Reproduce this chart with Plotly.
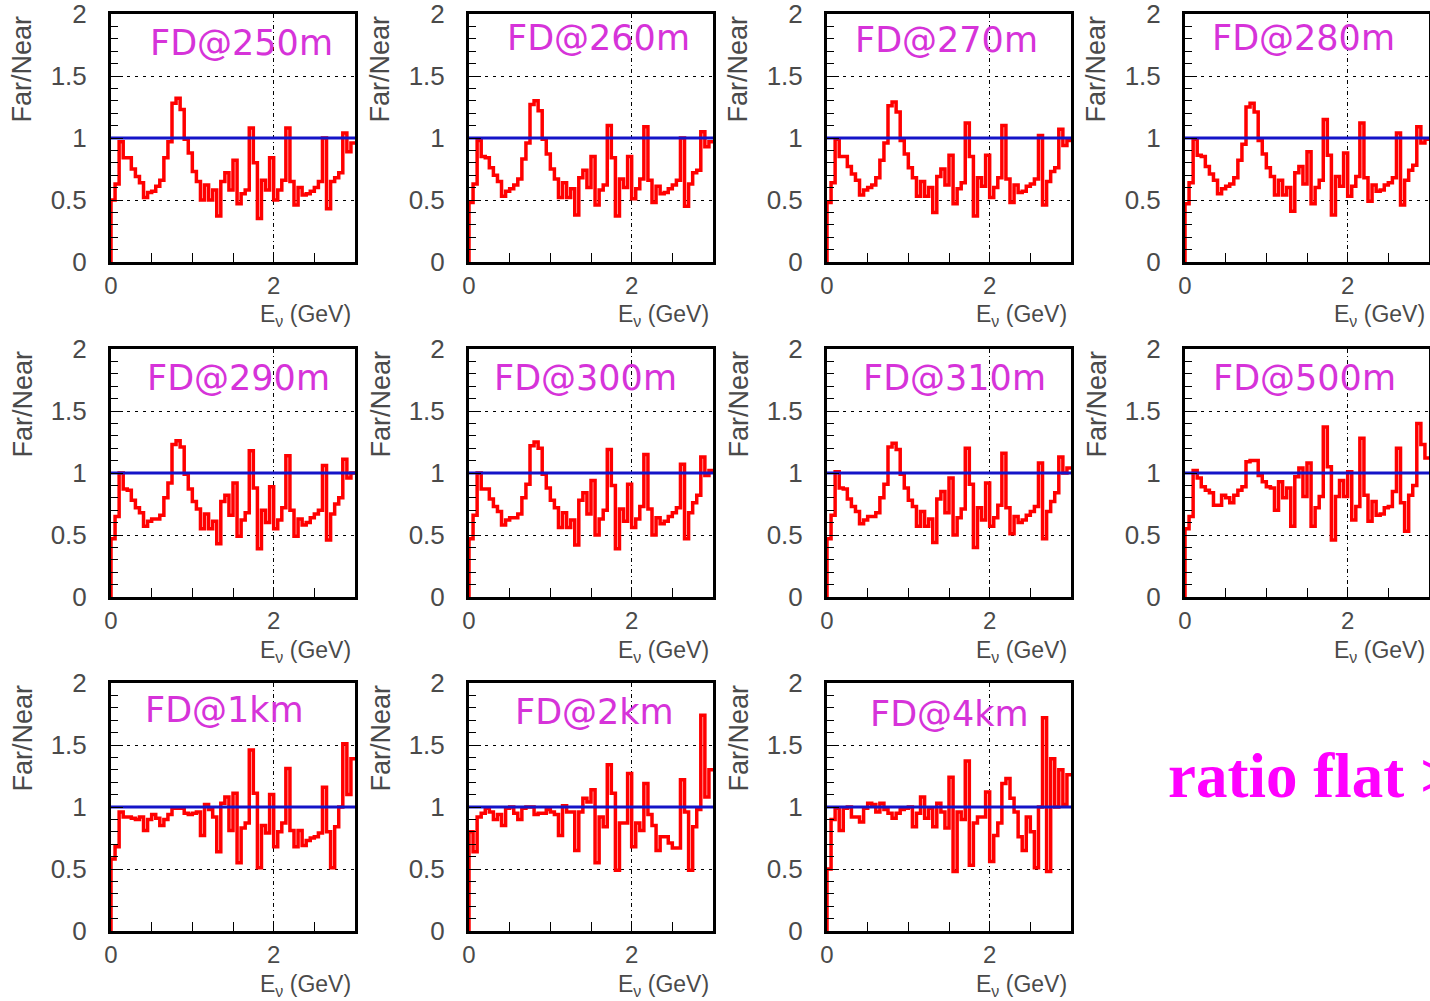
import numpy as np
import plotly.graph_objects as go

# ---------------- data ----------------
E_MIN, E_MAX = 0.0, 3.0
N_BINS = 60
UNITY = 1.0

panel_labels = ["FD@250m", "FD@260m", "FD@270m", "FD@280m",
                "FD@290m", "FD@300m", "FD@310m", "FD@500m",
                "FD@1km", "FD@2km", "FD@4km"]

r250 = [0.50, 0.63, 0.97, 0.84, 0.84, 0.75, 0.69, 0.64, 0.52, 0.56,
        0.57, 0.61, 0.66, 0.84, 0.97, 1.28, 1.32, 1.23, 0.99, 0.88,
        0.73, 0.65, 0.50, 0.62, 0.50, 0.58, 0.37, 0.65, 0.72, 0.58,
        0.82, 0.47, 0.55, 0.58, 1.08, 0.80, 0.35, 0.66, 0.58, 0.84,
        0.50, 0.58, 0.66, 1.08, 0.65, 0.46, 0.60, 0.54, 0.55, 0.57,
        0.60, 0.65, 1.00, 0.43, 0.65, 0.68, 0.72, 1.04, 0.89, 0.96]

r260 = [0.48, 0.63, 0.98, 0.85, 0.84, 0.76, 0.70, 0.65, 0.53, 0.57,
        0.59, 0.62, 0.67, 0.83, 0.96, 1.27, 1.30, 1.22, 0.99, 0.87,
        0.75, 0.67, 0.52, 0.64, 0.52, 0.59, 0.38, 0.68, 0.74, 0.60,
        0.85, 0.46, 0.58, 0.62, 1.10, 0.84, 0.37, 0.67, 0.60, 0.85,
        0.51, 0.59, 0.67, 1.09, 0.66, 0.48, 0.61, 0.55, 0.56, 0.59,
        0.62, 0.66, 1.00, 0.45, 0.63, 0.72, 0.74, 1.05, 0.93, 0.97]

r270 = [0.48, 0.64, 0.99, 0.85, 0.85, 0.77, 0.71, 0.66, 0.54, 0.58,
        0.60, 0.62, 0.68, 0.82, 0.96, 1.26, 1.29, 1.21, 0.98, 0.87,
        0.76, 0.68, 0.53, 0.65, 0.53, 0.60, 0.40, 0.69, 0.75, 0.62,
        0.86, 0.47, 0.59, 0.64, 1.12, 0.85, 0.37, 0.68, 0.61, 0.86,
        0.52, 0.60, 0.68, 1.10, 0.67, 0.48, 0.62, 0.56, 0.57, 0.61,
        0.63, 0.67, 1.02, 0.46, 0.65, 0.73, 0.76, 1.07, 0.94, 0.98]

r280 = [0.47, 0.64, 0.99, 0.86, 0.85, 0.77, 0.71, 0.66, 0.55, 0.59,
        0.61, 0.63, 0.68, 0.82, 0.95, 1.25, 1.28, 1.21, 0.98, 0.87,
        0.76, 0.69, 0.54, 0.66, 0.54, 0.60, 0.41, 0.72, 0.77, 0.63,
        0.89, 0.47, 0.60, 0.66, 1.15, 0.86, 0.38, 0.69, 0.61, 0.88,
        0.53, 0.61, 0.69, 1.12, 0.68, 0.49, 0.62, 0.57, 0.58, 0.62,
        0.64, 0.68, 1.04, 0.46, 0.66, 0.74, 0.78, 1.09, 0.96, 0.99]

r290 = [0.47, 0.65, 1.00, 0.87, 0.86, 0.78, 0.72, 0.68, 0.57, 0.61,
        0.63, 0.63, 0.66, 0.80, 0.92, 1.23, 1.26, 1.21, 0.99, 0.87,
        0.77, 0.71, 0.55, 0.67, 0.55, 0.61, 0.43, 0.77, 0.82, 0.66,
        0.92, 0.49, 0.62, 0.68, 1.18, 0.88, 0.39, 0.70, 0.60, 0.89,
        0.55, 0.62, 0.72, 1.14, 0.70, 0.49, 0.63, 0.58, 0.60, 0.64,
        0.67, 0.70, 1.06, 0.46, 0.67, 0.75, 0.80, 1.11, 0.96, 1.00]

r300 = [0.47, 0.66, 1.00, 0.87, 0.87, 0.79, 0.73, 0.69, 0.58, 0.62,
        0.64, 0.64, 0.67, 0.80, 0.91, 1.22, 1.25, 1.20, 0.99, 0.88,
        0.78, 0.72, 0.56, 0.68, 0.56, 0.62, 0.42, 0.78, 0.84, 0.67,
        0.94, 0.50, 0.63, 0.70, 1.19, 0.90, 0.39, 0.71, 0.61, 0.91,
        0.56, 0.63, 0.73, 1.15, 0.71, 0.50, 0.64, 0.59, 0.61, 0.65,
        0.68, 0.72, 1.07, 0.47, 0.68, 0.76, 0.82, 1.13, 0.98, 1.02]

r310 = [0.47, 0.66, 1.01, 0.88, 0.87, 0.79, 0.73, 0.69, 0.59, 0.62,
        0.65, 0.65, 0.68, 0.80, 0.91, 1.21, 1.24, 1.19, 0.99, 0.88,
        0.78, 0.73, 0.57, 0.69, 0.57, 0.63, 0.44, 0.79, 0.85, 0.68,
        0.96, 0.50, 0.64, 0.71, 1.20, 0.91, 0.40, 0.72, 0.62, 0.92,
        0.57, 0.64, 0.74, 1.16, 0.72, 0.51, 0.65, 0.60, 0.62, 0.66,
        0.69, 0.73, 1.08, 0.47, 0.69, 0.77, 0.84, 1.13, 1.00, 1.04]

r500 = [0.55, 0.65, 1.02, 0.96, 0.89, 0.86, 0.84, 0.74, 0.74, 0.82,
        0.80, 0.76, 0.82, 0.86, 0.89, 1.09, 1.10, 1.10, 0.98, 0.93,
        0.89, 0.88, 0.70, 0.93, 0.80, 0.88, 0.57, 0.97, 1.04, 0.81,
        1.08, 0.57, 0.72, 0.81, 1.37, 1.05, 0.46, 0.81, 0.94, 0.81,
        1.01, 0.62, 0.73, 1.28, 0.82, 0.61, 0.77, 0.66, 0.67, 0.72,
        0.73, 0.85, 1.20, 0.76, 0.53, 0.82, 0.90, 1.40, 1.23, 1.12]

r1km = [0.58, 0.68, 0.96, 0.92, 0.92, 0.91, 0.90, 0.92, 0.81, 0.90,
        0.94, 0.91, 0.85, 0.90, 0.94, 0.99, 0.99, 0.99, 0.95, 0.94,
        0.95, 0.96, 0.77, 1.02, 0.98, 0.92, 0.64, 1.03, 1.08, 0.81,
        1.11, 0.55, 0.83, 0.87, 1.46, 1.11, 0.51, 0.85, 0.79, 1.10,
        0.68, 0.80, 0.87, 1.31, 0.81, 0.68, 0.81, 0.69, 0.73, 0.75,
        0.76, 0.79, 1.16, 0.80, 0.51, 0.84, 1.00, 1.51, 1.10, 1.39]

r2km = [0.80, 0.64, 0.92, 0.95, 0.99, 0.96, 0.90, 0.94, 0.85, 0.99,
        1.00, 0.95, 0.90, 0.99, 1.00, 1.00, 0.94, 0.95, 0.95, 0.98,
        0.96, 0.94, 0.77, 1.01, 0.96, 0.96, 0.65, 0.96, 1.07, 1.04,
        1.14, 0.55, 0.92, 0.84, 1.34, 1.11, 0.49, 0.87, 0.87, 1.27,
        0.68, 0.87, 0.81, 1.19, 0.94, 0.85, 0.65, 0.76, 0.76, 0.71,
        0.67, 0.67, 1.22, 0.96, 0.49, 0.84, 0.98, 1.74, 1.08, 1.30]

r4km = [0.50, 0.90, 0.99, 0.81, 0.99, 1.00, 0.92, 0.92, 0.88, 0.99,
        1.03, 1.02, 0.96, 1.03, 0.98, 0.95, 0.91, 0.95, 0.98, 0.99,
        1.00, 0.84, 0.95, 1.08, 0.91, 0.99, 0.84, 1.03, 0.96, 0.83,
        1.24, 0.48, 0.96, 0.90, 1.37, 0.53, 0.87, 0.92, 0.92, 1.12,
        0.56, 0.77, 0.87, 1.19, 1.23, 1.07, 0.96, 0.76, 0.65, 0.92,
        0.80, 0.51, 1.00, 1.72, 0.48, 1.39, 1.00, 1.30, 1.02, 1.26]

ratios = [r250, r260, r270, r280, r290, r300, r310, r500, r1km, r2km, r4km]

y_ticks = [0, 0.5, 1, 1.5, 2]
x_label_ticks = [0, 2]
x_minor_ticks = [0.5, 1.0, 1.5, 2.5]
side_text = "ratio flat >"

# ---------------- layout geometry (pixels) ----------------
W, H = 1430, 1001
col_left = [111, 469, 827, 1185]
row_top = [14, 349, 683]
FW, FH = 244, 248
title_xy = [(241, 43), (598, 38), (946, 40), (1303, 38),
            (238, 378), (585, 378), (954, 378), (1304, 378),
            (224, 710), (594, 712), (949, 714)]

def px(x):
    return x / W

def py(y):
    return 1 - y / H

FONT = "Liberation Sans, Arial, sans-serif"
GREY = "#4a4a4a"
MAGENTA = "#d633d9"

fig = go.Figure()
edges = np.linspace(E_MIN, E_MAX, N_BINS + 1)

annotations = []
for i, vals in enumerate(ratios):
    k = i + 1
    r, c = divmod(i, 4)
    l = col_left[c]
    t = row_top[r]
    xs = [E_MIN] + list(edges[:-1]) + [E_MAX]
    ys = [0.0] + list(vals) + [vals[-1]]
    xa = f"x{k}" if k > 1 else "x"
    ya = f"y{k}" if k > 1 else "y"
    fig.add_trace(go.Scatter(x=xs, y=ys, mode="lines", line_shape="hv",
                             line=dict(color="#ff0000", width=3.5),
                             xaxis=xa, yaxis=ya, showlegend=False,
                             hoverinfo="skip"))
    fig.add_trace(go.Scatter(x=[E_MIN, E_MAX], y=[UNITY, UNITY], mode="lines",
                             line=dict(color="#1414c8", width=3),
                             xaxis=xa, yaxis=ya, showlegend=False,
                             hoverinfo="skip"))
    sfx = str(k) if k > 1 else ""
    fig.layout["xaxis" + sfx] = dict(
        domain=[px(l), px(l + FW)], range=[E_MIN, E_MAX], anchor=ya,
        automargin=False,
        showline=True, mirror=True, linecolor="black", linewidth=3,
        ticks="inside", ticklen=9, tickwidth=1, tickcolor="black",
        tickvals=x_label_ticks, ticktext=[str(v) for v in x_label_ticks],
        ticklabelstandoff=0, ticklabeloverflow="allow",
        tickfont=dict(family=FONT, size=24, color=GREY),
        showgrid=True, gridcolor="black", gridwidth=1,
        griddash="4px,3px,1px,3px",
        minor=dict(tickvals=x_minor_ticks, ticks="inside", ticklen=9,
                   tickcolor="black", tickwidth=1, showgrid=False),
        zeroline=False, fixedrange=True)
    fig.layout["yaxis" + sfx] = dict(
        domain=[py(t + FH), py(t)], range=[0, 2], anchor=xa,
        automargin=False,
        showline=True, mirror=True, linecolor="black", linewidth=3,
        ticks="inside", ticklen=12, tickwidth=1, tickcolor="black",
        tickvals=y_ticks, ticktext=["0", "0.5", "1", "1.5", "2"],
        ticklabelstandoff=16, ticklabeloverflow="allow",
        tickfont=dict(family=FONT, size=26, color=GREY),
        showgrid=True, gridcolor="black", gridwidth=1, griddash="3px,5px",
        minor=dict(dtick=0.1, ticks="inside", ticklen=7,
                   tickcolor="black", tickwidth=1, showgrid=False),
        zeroline=False, fixedrange=True)
    # panel title
    tx, ty = title_xy[i]
    annotations.append(dict(x=px(tx), y=py(ty), xref="paper", yref="paper",
                            text=panel_labels[i], showarrow=False,
                            xanchor="center", yanchor="middle",
                            font=dict(family="DejaVu Sans", size=35, color=MAGENTA)))
    # y title
    annotations.append(dict(x=px(l - 89), y=py(t), xref="paper", yref="paper",
                            text="Far/Near", showarrow=False, textangle=-90,
                            xanchor="center", yanchor="top",
                            font=dict(family=FONT, size=27, color=GREY)))
    # x title
    annotations.append(dict(x=px(l + FW - 2), y=py(t + FH + 54), xref="paper", yref="paper",
                            text="E<sub>ν</sub> (GeV)", showarrow=False,
                            xanchor="right", yanchor="middle",
                            font=dict(family=FONT, size=23, color=GREY)))

annotations.append(dict(x=px(1166), y=py(776), xref="paper", yref="paper",
                        text="<b>" + side_text + "</b>", showarrow=False,
                        xanchor="left", yanchor="middle",
                        font=dict(family="Liberation Serif, Times New Roman, serif",
                                  size=63, color="#ff00ff")))

fig.update_layout(width=W, height=H, margin=dict(l=0, r=0, t=0, b=0, autoexpand=False),
                  paper_bgcolor="white", plot_bgcolor="white",
                  annotations=annotations, showlegend=False)

fig.write_html("out.html", config={"displayModeBar": False})
